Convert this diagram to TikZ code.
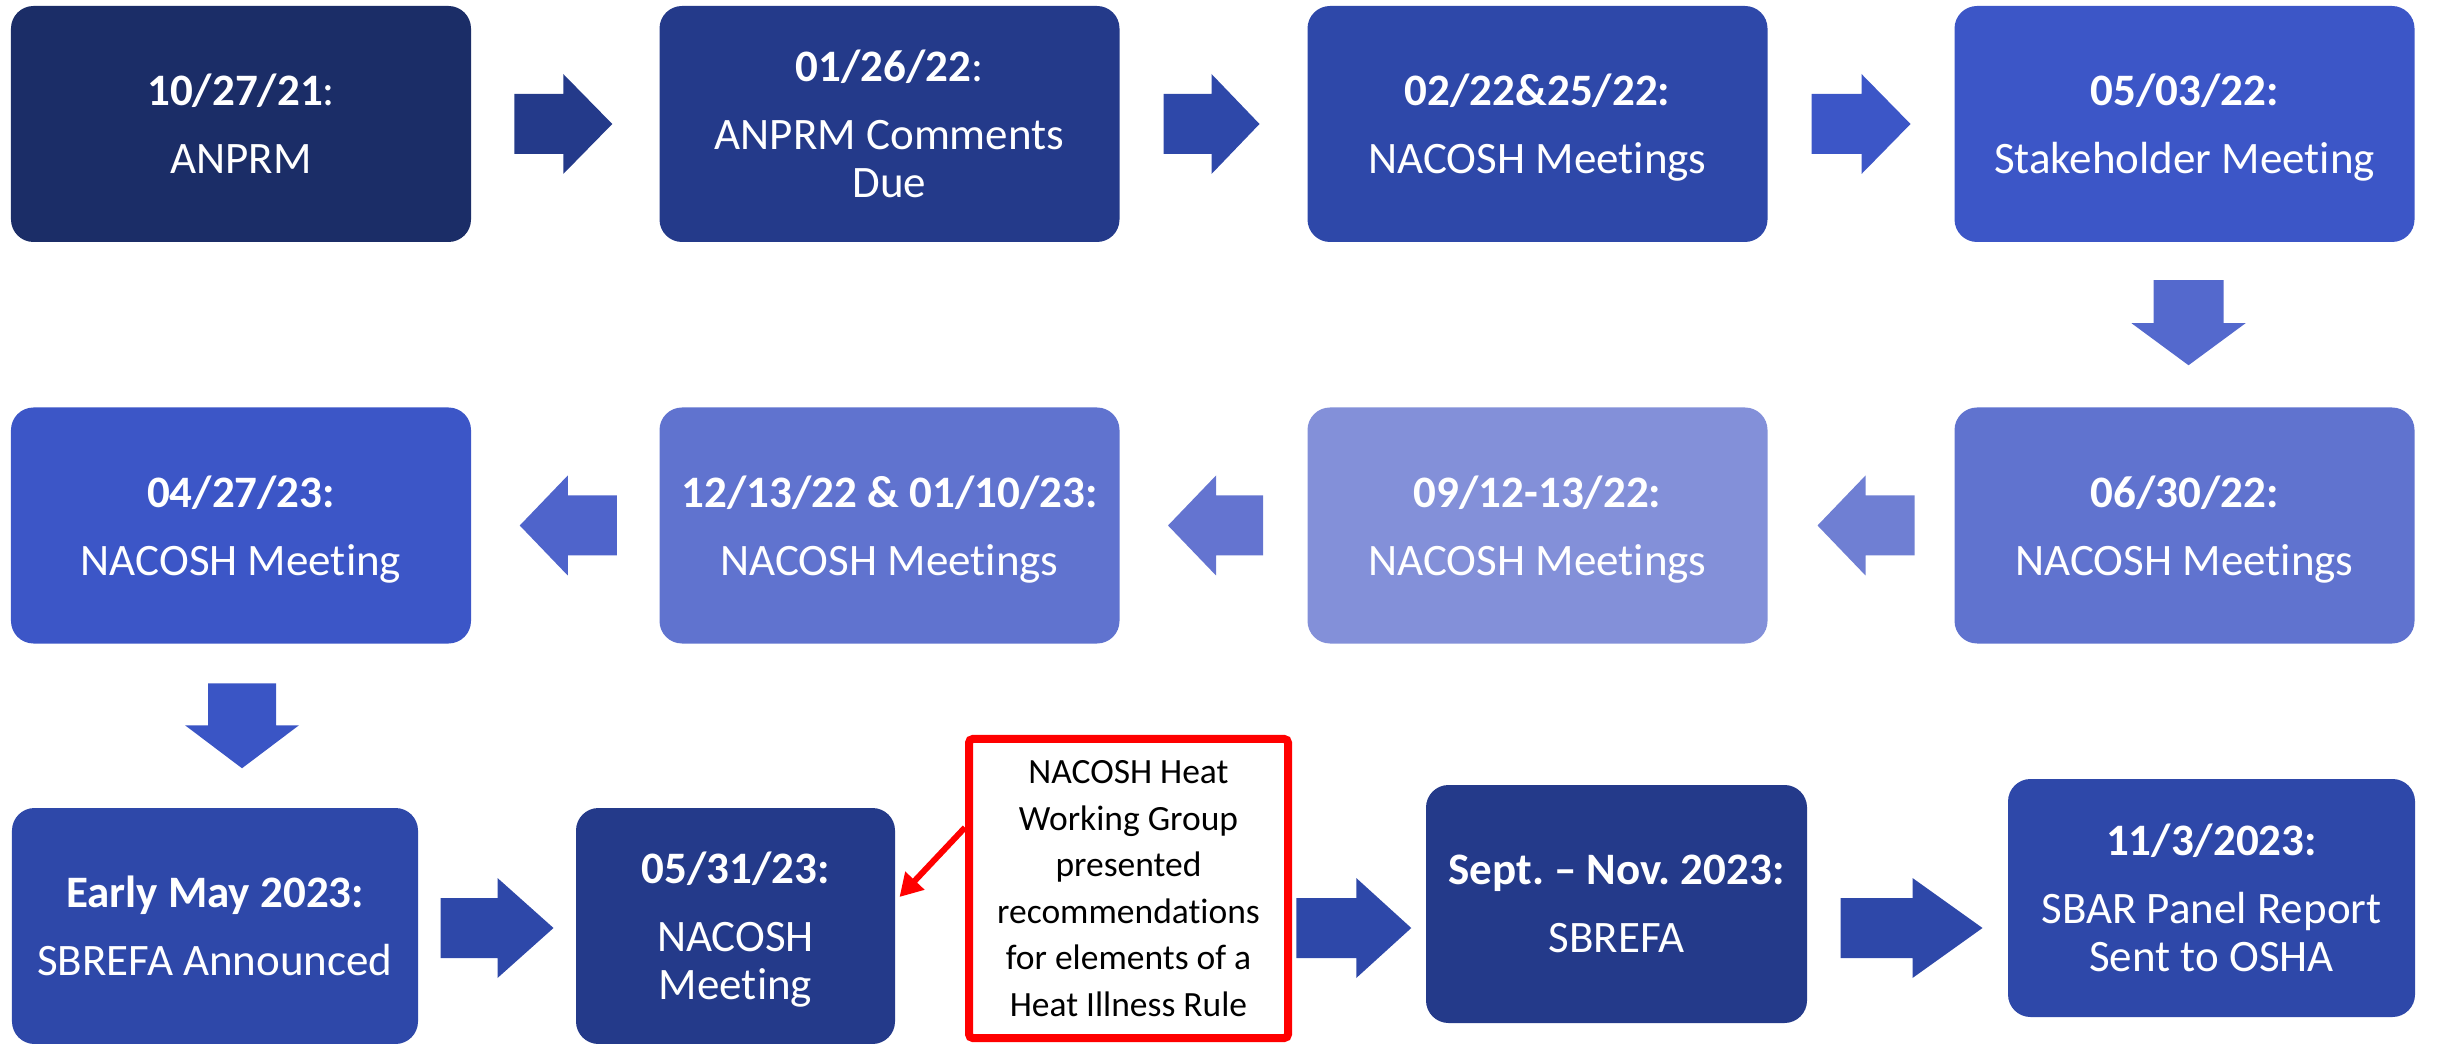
\documentclass[tikz,border=0pt]{standalone}
\usepackage{fontspec}
\setmainfont{Carlito}[Ligatures=NoCommon]
\usetikzlibrary{calc,arrows.meta}
\frenchspacing
\definecolor{cA}{HTML}{1B2D67}
\definecolor{cB}{HTML}{243A8A}
\definecolor{cC}{HTML}{2E48A9}
\definecolor{cD}{HTML}{3C56C7}
\definecolor{cE}{HTML}{6073CF}
\definecolor{cF}{HTML}{8390D9}
\definecolor{aDown}{HTML}{5469CD}
\definecolor{aL1}{HTML}{6F7FD3}
\definecolor{aL2}{HTML}{6474D0}
\definecolor{aL3}{HTML}{4F64CB}
\definecolor{aDownL}{HTML}{3A55C5}
\newcommand\mainfs{\fontsize{18pt}{19.2pt}\selectfont}
\newcommand\notefs{\fontsize{14.2pt}{18.6pt}\selectfont}
% right-pointing block arrow: color, centre, length, head length, shaft half width, head half width
\newcommand\blockR[6]{\fill[#1] (#2) ++({-#3/2},{-#5}) -- ++({#3-#4},0) -- ++(0,{-(#6-#5)}) -- ++({#4},{#6}) -- ++({-#4},{#6}) -- ++(0,{-(#6-#5)}) -- ++({-(#3-#4)},0) -- cycle;}
\newcommand\blockL[6]{\fill[#1] (#2) ++({#3/2},{-#5}) -- ++({-(#3-#4)},0) -- ++(0,{-(#6-#5)}) -- ++({-#4},{#6}) -- ++({#4},{#6}) -- ++(0,{-(#6-#5)}) -- ++({#3-#4},0) -- cycle;}
\newcommand\blockD[6]{\fill[#1] (#2) ++({-#5},{-#3/2}) -- ++(0,{#3-#4}) -- ++({-(#6-#5)},0) -- ++({#6},{#4}) -- ++({#6},{-#4}) -- ++({-(#6-#5)},0) -- ++(0,{-(#3-#4)}) -- cycle;}
\tikzset{
  evbox/.style={rounded corners=9pt, text=white, align=center, inner sep=0pt,
    font=\mainfs, text depth=0pt},
  bigbox/.style={evbox, minimum width=184pt, minimum height=94.4pt},
  notebox/.style={draw=red, line width=3.2pt, fill=white, rounded corners=1.5pt,
    text=black, align=center, inner sep=0pt, font=\notefs, text depth=0pt,
    minimum width=127.6pt, minimum height=119.6pt},
  notearrow/.style={draw=red, line width=2.4pt, -{Triangle[length=9pt,width=10pt]}}
}
\begin{document}
\begin{tikzpicture}[x=0.4pt,y=-0.4pt]
\useasboundingbox (0,0) rectangle (2437,1044);
% row 1
\node[bigbox, fill=cA] (b1) at (241,124) {\textbf{10/27/21}:\\[8pt]ANPRM};
\node[bigbox, fill=cB] (b2) at (889.5,124) {\textbf{01/26/22}:\\[8pt]ANPRM Comments\\Due};
\node[bigbox, fill=cC] (b3) at (1537.5,124) {\textbf{02/22\&25/22:}\\[8pt]NACOSH Meetings};
\node[bigbox, fill=cD] (b4) at (2184.5,124) {\textbf{05/03/22:}\\[8pt]Stakeholder Meeting};
% row 2
\node[bigbox, fill=cD] (r21) at (241,525.5) {\textbf{04/27/23:}\\[8pt]NACOSH Meeting};
\node[bigbox, fill=cE] (r22) at (889.5,525.5) {\textbf{12/13/22 \& 01/10/23:}\\[8pt]NACOSH Meetings};
\node[bigbox, fill=cF] (r23) at (1537.5,525.5) {\textbf{09/12-13/22:}\\[8pt]NACOSH Meetings};
\node[bigbox, fill=cE] (r24) at (2184.5,525.5) {\textbf{06/30/22:}\\[8pt]NACOSH Meetings};
% row 3
\node[evbox, fill=cC, minimum width=162.4pt, minimum height=94.4pt] (r31) at (215,926) {\textbf{Early May 2023:}\\[8pt]SBREFA Announced};
\node[evbox, fill=cB, minimum width=127.6pt, minimum height=94.4pt] (r32) at (735.5,926) {\textbf{05/31/23:}\\[8pt]NACOSH\\Meeting};
\node[notebox] (note) at (1128.5,888.5) {NACOSH Heat\\Working Group\\presented\\recommendations\\for elements of a\\Heat Illness Rule};
\node[evbox, fill=cB, minimum width=152.4pt, minimum height=95.2pt] (r33) at (1616.5,904) {\textbf{Sept. – Nov. 2023:}\\[8pt]SBREFA};
\node[evbox, fill=cC, minimum width=162.8pt, minimum height=95.2pt] (r34) at (2211.5,898) {\textbf{11/3/2023:}\\[8pt]SBAR Panel Report\\Sent to OSHA};
% block arrows row 1
\coordinate (a1) at ($(b1.east)!0.5!(b2.west)+(-2,0)$);
\coordinate (a2) at ($(b2.east)!0.5!(b3.west)+(-2,0)$);
\coordinate (a3) at ($(b3.east)!0.5!(b4.west)$);
\blockR{cB}{a1}{98}{49}{30}{50}
\blockR{cC}{a2}{96}{48}{30}{50}
\blockR{cD}{a3}{99}{49}{30}{50}
% down arrow right
\coordinate (d1) at ($(b4.south)!0.5!(r24.north)+(4,-2)$);
\blockD{aDown}{d1}{85}{42}{35}{57}
% row 2 arrows
\coordinate (l1) at ($(r23.east)!0.5!(r24.west)+(5,0)$);
\coordinate (l2) at ($(r22.east)!0.5!(r23.west)+(2,0)$);
\coordinate (l3) at ($(r21.east)!0.5!(r22.west)+(3,0)$);
\blockL{aL1}{l1}{97}{48}{30}{50}
\blockL{aL2}{l2}{95}{48}{30}{50}
\blockL{aL3}{l3}{97}{48}{30}{50}
% down arrow left
\coordinate (d2) at ($(r21.south)!0.5!(r21.south|-r31.north)+(1,0)$);
\blockD{aDownL}{d2}{85}{43}{34}{57}
% row 3 arrows
\coordinate (m1) at ($(r31.east)!0.5!(r32.west)+(0,2)$);
\coordinate (m2) at ($($(note.east)!0.5!(r33.west)$)!(m1)!($(note.east)!0.5!(r33.west)+(0,100)$)+(-5,0)$);
\coordinate (m3) at ($($(r33.east)!0.5!(r34.west)$)!(m1)!($(r33.east)!0.5!(r34.west)+(0,100)$)+(4,0)$);
\blockR{cC}{m1}{113}{56}{30}{50}
\blockR{cC}{m2}{115}{55}{30}{50}
\blockR{cC}{m3}{142}{70}{30}{50}
% red pointer
\draw[notearrow] ([yshift=24.4pt]note.west) -- ([xshift=1.6pt,yshift=11.6pt]r32.east);
\end{tikzpicture}
\end{document}
